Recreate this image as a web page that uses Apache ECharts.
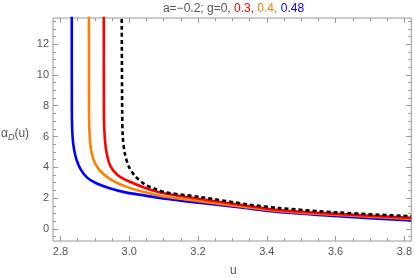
<!DOCTYPE html>
<html><head><meta charset="utf-8">
<script src="https://cdn.jsdelivr.net/npm/echarts@6/dist/echarts.min.js"></script>
<style>html,body{margin:0;padding:0;background:#fff}#c{width:415px;height:278px}</style>
</head><body><div id="c"></div>
<script>
// ---- data ----
const xTicks = [2.8, 3.0, 3.2, 3.4, 3.6, 3.8];
const yTicks = [0, 2, 4, 6, 8, 10, 12];
const gLabels = ['0', '0.3', '0.4', '0.48'];
// g = 0 (black dashed)
const u_g0 = [2.978, 2.9795, 2.9812, 2.987, 2.9986, 3.0179, 3.0468, 3.0756, 3.1045, 3.203, 3.347, 3.433, 3.607, 3.82];
const a_g0 = [15, 7.74, 6.01, 4.93, 4.06, 3.41, 2.87, 2.59, 2.37, 2.08, 1.58, 1.36, 1.06, 0.82];
// g = 0.3 (red)
const u_g03 = [2.926, 2.9264, 2.9293, 2.9362, 2.9457, 2.9651, 2.9986, 3.0468, 3.1045, 3.203, 3.318, 3.433, 3.607, 3.82];
const a_g03 = [15, 7.74, 5.80, 4.71, 4.06, 3.52, 3.09, 2.66, 2.29, 1.95, 1.58, 1.22, 0.97, 0.71];
// g = 0.4 (orange)
const u_g04 = [2.8828, 2.8831, 2.8851, 2.8909, 2.9025, 2.9218, 2.9506, 2.989, 3.0468, 3.1045, 3.203, 3.318, 3.433, 3.607, 3.82];
const a_g04 = [15, 7.74, 6.01, 4.93, 4.17, 3.63, 3.15, 2.76, 2.37, 2.08, 1.80, 1.47, 1.16, 0.90, 0.65];
// g = 0.48 (blue)
const u_g048 = [2.8329, 2.8332, 2.8352, 2.8398, 2.8468, 2.8592, 2.8785, 2.9025, 2.9408, 2.989, 3.0468, 3.1045, 3.203, 3.318, 3.433, 3.607, 3.82];
const a_g048 = [15, 7.74, 6.01, 5.14, 4.49, 3.85, 3.31, 2.98, 2.66, 2.37, 2.16, 1.95, 1.69, 1.40, 1.10, 0.82, 0.54];

const X_MIN = 2.7784, X_MAX = 3.8202, Y_MIN = -0.79, Y_MAX = 13.70;
const frame = '#9a9a9a', txt = '#555';

function minor(ticks, step, lo, hi) {
  const out = [];
  const n0 = Math.ceil(lo / step - 1e-9), n1 = Math.floor(hi / step + 1e-9);
  for (let n = n0; n <= n1; n++) {
    const r = Math.round(n * step * 1000) / 1000;
    if (r < lo || r > hi) continue;
    if (!ticks.some(t => Math.abs(t - r) < 1e-6)) out.push(r);
  }
  return out;
}
const xMinor = minor(xTicks, 0.05, X_MIN, X_MAX);
const yMinor = minor(yTicks, 0.5, Y_MIN, Y_MAX);

function xAx(pos, vals, len, labels) {
  return {type: 'value', position: pos, min: X_MIN, max: X_MAX, splitLine: {show: false},
    axisLine: {show: false, onZero: false},
    axisTick: {show: true, inside: true, length: len, customValues: vals, lineStyle: {color: frame, width: 1}},
    axisLabel: labels ? {show: true, customValues: xTicks, color: txt, fontSize: 11, margin: 5,
      fontFamily: 'Liberation Sans', formatter: v => v.toFixed(1)} : {show: false}};
}
function yAx(pos, vals, len, labels) {
  return {type: 'value', position: pos, min: Y_MIN, max: Y_MAX, splitLine: {show: false},
    axisLine: {show: false, onZero: false},
    axisTick: {show: true, inside: true, length: len, customValues: vals, lineStyle: {color: frame, width: 1}},
    axisLabel: labels ? {show: true, customValues: yTicks, color: txt, fontSize: 11, margin: 4,
      fontFamily: 'Liberation Sans', formatter: v => String(v)} : {show: false}};
}
function mk(u, a) { return u.map((x, i) => [x, a[i]]); }
function ser(u, a, color, dashed) {
  return {type: 'line', data: mk(u, a), showSymbol: false, smooth: 0.3, clip: true, z: dashed ? 5 : 3,
    lineStyle: {color: color, width: 2.6, type: dashed ? [4, 3] : 'solid'}};
}

const chart = echarts.init(document.getElementById('c'), null, {renderer: 'canvas'});
chart.setOption({
  animation: false,
  grid: {left: 53, right: 1, top: 18, bottom: 37, show: true, borderColor: frame, borderWidth: 1, containLabel: false},
  xAxis: [xAx('bottom', xTicks, 5, true), xAx('bottom', xMinor, 3, false), xAx('top', xTicks, 5, false), xAx('top', xMinor, 3, false)],
  yAxis: [yAx('left', yTicks, 5, true), yAx('left', yMinor, 3, false), yAx('right', yTicks, 5, false), yAx('right', yMinor, 3, false)],
  graphic: [
    {type: 'text', x: 233.5, y: 9, style: {
      text: '{g|a=−0.2; g=' + gLabels[0] + ', }{r|' + gLabels[1] + ', }{o|' + gLabels[2] + ', }{b|' + gLabels[3] + '}',
      align: 'center', verticalAlign: 'middle',
      rich: {
        g: {fill: '#555', fontSize: 12, fontWeight: 'normal', fontFamily: 'Liberation Sans'},
        r: {fill: '#ff0000', fontSize: 12, fontWeight: 'normal', fontFamily: 'Liberation Sans'},
        o: {fill: '#ff8000', fontSize: 12, fontWeight: 'normal', fontFamily: 'Liberation Sans'},
        b: {fill: '#0000ff', fontSize: 12, fontWeight: 'normal', fontFamily: 'Liberation Sans'}
      }}},
    {type: 'text', left: 1, top: 128, style: {text: '{a|α}{d|D}{a|(u)}', rich: {
      a: {fontSize: 12, fill: txt, fontFamily: 'Liberation Sans'},
      d: {fontSize: 9, fill: txt, fontStyle: 'italic', verticalAlign: 'bottom', padding: [6, 0, 0, 0], fontFamily: 'Liberation Sans'}}}},
    {type: 'text', left: 230, top: 265, style: {text: 'u', fontSize: 12, fill: txt, fontFamily: 'Liberation Sans'}}
  ],
  series: [
    ser(u_g048, a_g048, '#0000ff', false),
    ser(u_g04, a_g04, '#ff8000', false),
    ser(u_g03, a_g03, '#ff0000', false),
    ser(u_g0, a_g0, '#000000', true)
  ]
});
</script></body></html>
